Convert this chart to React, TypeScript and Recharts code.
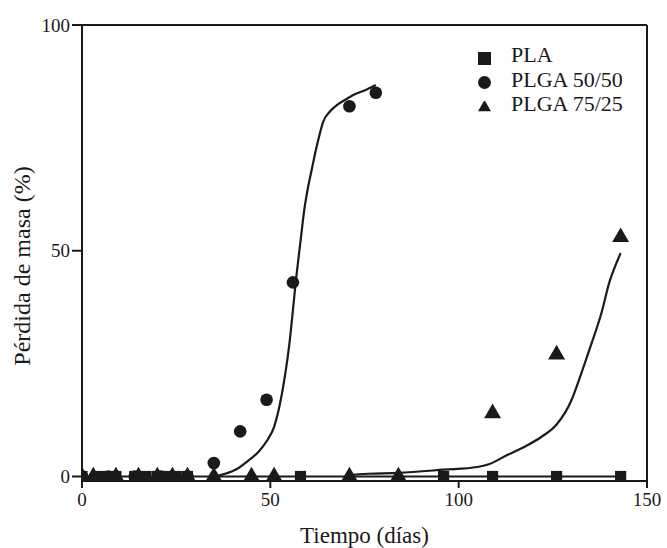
import {
  ComposedChart,
  Scatter,
  Line,
  XAxis,
  YAxis,
  ZAxis,
  Legend,
  ReferenceLine,
} from "recharts";

// measured points
const plaX = [0, 5, 9, 14, 17, 20, 23, 25, 28, 58, 96, 109, 126, 143];
const plaY = [0, 0, 0, 0, 0, 0, 0, 0, 0, 0, 0, 0, 0, 0];

const plga5050X = [0, 7, 14, 21, 28, 35, 42, 49, 56, 71, 78];
const plga5050Y = [0, 0, 0, 0, 0, 3, 10, 17, 43, 82, 85];

const plga7525X = [0, 3, 9, 15, 20, 24, 28, 35, 45, 51, 71, 84, 109, 126, 143];
const plga7525Y = [0, 0, 0, 0, 0, 0, 0, 0, 0, 0, 0, 0, 14, 27, 53];

// fitted curves
const fitPlaX = [0, 143];
const fitPlaY = [0, 0];

const fit5050X = [35, 38, 41, 44, 47, 49, 51, 53, 55, 57, 58, 59, 60, 61, 62, 63, 64, 66, 68, 70, 72, 75, 78];
const fit5050Y = [0, 0.6, 1.6, 3.4, 5.6, 7.8, 11, 18, 29, 45, 52, 59, 64, 68, 72, 75.5, 78.5, 81, 82.5, 83.5, 84.5, 85.5, 86.7];

const fit7525X = [70, 76, 84, 96, 105, 108, 113, 118, 122, 126, 130, 132, 135, 138, 140, 142, 143];
const fit7525Y = [0.3, 0.6, 0.8, 1.5, 2.1, 2.7, 4.8, 6.8, 8.8, 11.5, 17, 21.5, 28.8, 36.5, 43, 47.5, 49.5];

const xTicks = [0, 50, 100, 150];
const yTicks = [0, 50, 100];

const toPts = (xs: number[], ys: number[]) => xs.map((x, i) => ({ x, y: ys[i] }));

const FONT = "Liberation Serif";
const INK = "#1a1a1a";

function XTick({ x, y, payload }: any) {
  return (
    <text x={x} y={y} dy="0.71em" textAnchor="middle" fill={INK} fontFamily={FONT} fontSize={19}>
      {payload.value}
    </text>
  );
}

function YTick({ x, y, payload }: any) {
  return (
    <text x={x} y={y} dy="0.35em" textAnchor="end" fill={INK} fontFamily={FONT} fontSize={19}>
      {payload.value}
    </text>
  );
}

function XTitle({ viewBox }: any) {
  const { x, y, width, height } = viewBox;
  return (
    <text x={x + width / 2} y={y + height} textAnchor="middle" fill={INK} fontFamily={FONT} fontSize={23}>
      Tiempo (días)
    </text>
  );
}

function YTitle({ viewBox }: any) {
  const { y, height } = viewBox;
  const cx = 22;
  const cy = y + height / 2 + 13;
  return (
    <text
      x={cx}
      y={cy}
      dy="0.35em"
      textAnchor="middle"
      transform={`rotate(-90, ${cx}, ${cy})`}
      fill={INK}
      fontFamily={FONT}
      fontSize={24}
    >
      Pérdida de masa (%)
    </text>
  );
}

export default function App() {
  return (
    <div style={{ position: "absolute", left: 0, top: 0, fontFamily: FONT }}>
      <ComposedChart width={667} height={548} margin={{ top: 25, right: 20, bottom: 5, left: 0 }}>
        <XAxis
          dataKey="x"
          type="number"
          domain={[0, 150]}
          ticks={xTicks}
          allowDataOverflow
          height={62}
          tickSize={7}
          tickMargin={5}
          stroke={INK}
          strokeWidth={2}
          tick={<XTick />}
          label={<XTitle />}
        />
        <YAxis
          dataKey="y"
          type="number"
          domain={[-1, 100]}
          ticks={yTicks}
          allowDataOverflow
          width={82}
          tickSize={10}
          tickMargin={2}
          stroke={INK}
          strokeWidth={2}
          tick={<YTick />}
          label={<YTitle />}
        />
        <ZAxis range={[125, 125]} />
        <ReferenceLine y={100} stroke={INK} strokeWidth={2} />
        <ReferenceLine x={150} stroke={INK} strokeWidth={2} />
        <Legend
          layout="vertical"
          verticalAlign="middle"
          align="center"
          iconSize={13}
          wrapperStyle={{ top: 44, left: 478, width: 180, lineHeight: "22.5px" }}
          formatter={(v: string) => (
            <span style={{ color: INK, fontSize: 22, fontFamily: FONT, marginLeft: 16 }}>{v}</span>
          )}
        />
        <Line
          data={toPts(fitPlaX, fitPlaY)}
          dataKey="y"
          type="linear"
          stroke={INK}
          strokeWidth={2}
          dot={false}
          legendType="none"
          isAnimationActive={false}
        />
        <Line
          data={toPts(fit5050X, fit5050Y)}
          dataKey="y"
          type="monotone"
          stroke={INK}
          strokeWidth={2.2}
          dot={false}
          legendType="none"
          isAnimationActive={false}
        />
        <Line
          data={toPts(fit7525X, fit7525Y)}
          dataKey="y"
          type="monotone"
          stroke={INK}
          strokeWidth={2.2}
          dot={false}
          legendType="none"
          isAnimationActive={false}
        />
        <Scatter
          name="PLA"
          data={toPts(plaX, plaY)}
          fill={INK}
          shape="square"
          legendType="square"
          isAnimationActive={false}
        />
        <Scatter
          name="PLGA 50/50"
          data={toPts(plga5050X, plga5050Y)}
          fill={INK}
          shape="circle"
          legendType="circle"
          isAnimationActive={false}
        />
        <Scatter
          name="PLGA 75/25"
          data={toPts(plga7525X, plga7525Y)}
          fill={INK}
          shape="triangle"
          legendType="triangle"
          isAnimationActive={false}
        />
      </ComposedChart>
    </div>
  );
}
